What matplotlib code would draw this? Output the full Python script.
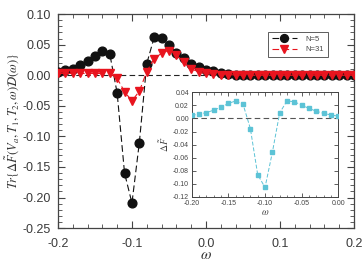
import numpy as np
import matplotlib
matplotlib.use('Agg')
import matplotlib.pyplot as plt
from matplotlib.ticker import MultipleLocator, FormatStrFormatter

plt.rcParams['font.family'] = ['Liberation Sans', 'DejaVu Sans']
plt.rcParams['mathtext.fontset'] = 'stix'

# main panel data
omega = np.round(np.arange(-0.20, 0.2001, 0.01), 2)
tr_n5 = [0.006, 0.008, 0.011, 0.016, 0.023, 0.031, 0.040, 0.035, -0.029, -0.160,
         -0.209, -0.110, 0.019, 0.062, 0.061, 0.049, 0.037, 0.028, 0.019, 0.013,
         0.009, 0.007, 0.004, 0.002, 0.001, 0.001, 0.001, 0.0005, 0.0, 0.0,
         0.0, 0.0, 0.0, 0.0, 0.0, 0.0, 0.0, 0.0, 0.0, 0.0, 0.0]
tr_n31 = [0.003, 0.003, 0.003, 0.003, 0.003, 0.003, 0.003, 0.003, -0.005, -0.027,
          -0.042, -0.026, 0.006, 0.027, 0.036, 0.040, 0.033, 0.021, 0.011, 0.005,
          0.003, 0.002, 0.001, 0.001, 0.0005, 0.0, 0.0, 0.0, 0.0, 0.0,
          0.0, 0.0, 0.0, 0.0, 0.0, 0.0, 0.0, 0.0, 0.0, 0.0, 0.0]

# inset data
omega_in = np.round(np.arange(-0.20, 0.0001, 0.01), 2)
dF = [0.005, 0.0066, 0.009, 0.0128, 0.0174, 0.023, 0.027, 0.022, -0.0154, -0.086,
      -0.1057, -0.052, 0.0086, 0.027, 0.0256, 0.0205, 0.0154, 0.0112, 0.0077, 0.0055,
      0.0035]

fig = plt.figure(figsize=(3.62, 2.61), dpi=100)
ax = fig.add_axes([0.160, 0.126, 0.818, 0.820])

ax.axhline(0, color='#222222', ls=(0, (5, 3)), lw=0.8, zorder=1)
ax.plot(omega, tr_n5, color='#111111', ls=(0, (6, 3)), lw=0.8, marker='o',
        ms=6.3, mec='#111111', mfc='#111111', label='N=5', zorder=3)
ax.plot(omega, tr_n31, color='#e8141e', ls=(0, (6, 3)), lw=0.8, marker='v',
        ms=6.3, mec='#e8141e', mfc='#e8141e', label='N=31', zorder=4)

ax.set_xlim(-0.2, 0.2)
ax.set_ylim(-0.25, 0.10)
ax.xaxis.set_major_locator(MultipleLocator(0.1))
ax.xaxis.set_minor_locator(MultipleLocator(0.02))
ax.yaxis.set_major_locator(MultipleLocator(0.05))
ax.yaxis.set_minor_locator(MultipleLocator(0.01))
ax.xaxis.set_major_formatter(FormatStrFormatter('%.1f'))
ax.yaxis.set_major_formatter(FormatStrFormatter('%.2f'))
ax.tick_params(which='both', direction='in', top=True, right=True,
               colors='#444444', labelcolor='#3a3a3a', labelsize=9)
ax.tick_params(which='major', length=5, width=0.8)
ax.tick_params(axis='x', which='major', pad=7)
ax.tick_params(axis='y', which='major', pad=5)
ax.tick_params(which='minor', length=3, width=0.6)
for s in ax.spines.values():
    s.set_color('#444444')
    s.set_linewidth(0.9)

ax.set_xlabel(r'$\omega$', fontsize=11, color='#333333', labelpad=-1)
ax.set_ylabel(r'$Tr\{\Delta\tilde{F}(V_a,T_1,T_2,\omega)\mathcal{D}(\omega)\}$',
              fontsize=9, color='#333333', labelpad=1)

leg = ax.legend(loc='upper right', bbox_to_anchor=(0.925, 0.935), fontsize=5.5,
                frameon=True, fancybox=False, handlelength=3.2, borderpad=0.5,
                labelspacing=0.4, handletextpad=1.2, markerscale=0.9)
leg.get_frame().set_edgecolor('#333333')
leg.get_frame().set_linewidth(0.7)
for t in leg.get_texts():
    t.set_color('#444444')

# inset
ins = fig.add_axes([0.5296, 0.246, 0.405, 0.400])
ins.axhline(0, color='#555555', ls=(0, (5, 3)), lw=0.8, zorder=1)
ins.plot(omega_in, dF, color='#5cc3d6', ls=(0, (4, 2)), lw=0.7, marker='s',
         ms=3.2, mec='#5cc3d6', mfc='#5cc3d6', zorder=3)
ins.set_xlim(-0.20, 0.0)
ins.set_ylim(-0.12, 0.04)
ins.xaxis.set_major_locator(MultipleLocator(0.05))
ins.xaxis.set_minor_locator(MultipleLocator(0.01))
ins.yaxis.set_major_locator(MultipleLocator(0.02))
ins.xaxis.set_major_formatter(FormatStrFormatter('%.2f'))
ins.yaxis.set_major_formatter(FormatStrFormatter('%.2f'))
ins.tick_params(which='both', direction='in', top=True, right=True,
                colors='#444444', labelcolor='#444444', labelsize=5)
ins.tick_params(which='major', length=3, width=0.6, pad=2)
ins.tick_params(which='minor', length=1.8, width=0.5)
for s in ins.spines.values():
    s.set_color('#444444')
    s.set_linewidth(0.7)
ins.set_xlabel(r'$\omega$', fontsize=7, color='#444444', labelpad=0)
ins.set_ylabel(r'$\Delta\tilde{F}$', fontsize=7, color='#444444', labelpad=1)

fig.savefig('out.png', dpi=100)
